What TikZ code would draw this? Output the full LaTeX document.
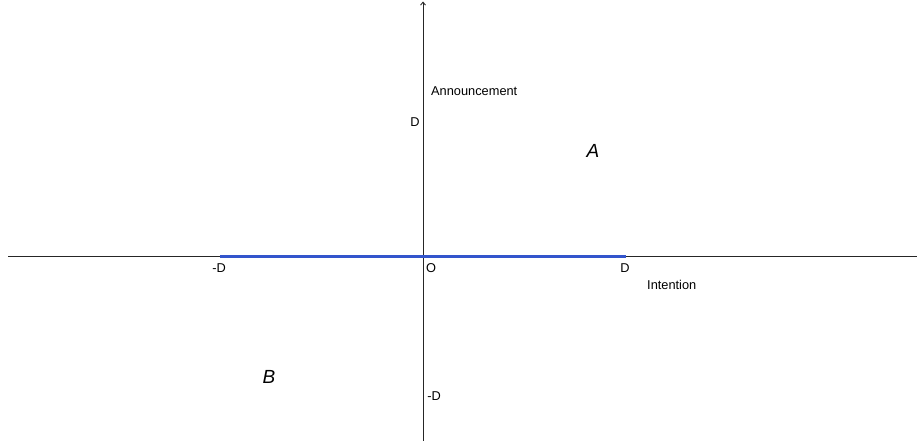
\documentclass[tikz,border=0pt]{standalone}
\usepackage{fontspec}
\setmainfont{Liberation Sans}
\usetikzlibrary{arrows.meta}
\definecolor{segblue}{HTML}{3355CC}
\tikzset{
  axis/.style={draw=black!85, line width=0.9pt},
  lbl/.style={inner sep=0pt, font=\fontsize{12.8}{14}\selectfont},
  region/.style={inner sep=0pt, font=\fontsize{19}{22}\selectfont\itshape},
  seg/.style={draw=segblue, line width=3pt}
}
\begin{document}
\begin{tikzpicture}[x=1pt,y=-1pt]
\useasboundingbox (0,0) rectangle (917,441);
\coordinate (xl) at (8,256);
\coordinate (xr) at (917,256);
\coordinate (yb) at (423,441);
\coordinate (yt) at (423,1.5);
\coordinate (sl) at (220,256);
\coordinate (sr) at (626,256);
\draw[axis] (xl) -- (xr);
\draw[axis, -{Straight Barb[length=3pt,width=5pt]}] (yb) -- (yt);
\draw[seg] (sl) -- (sr);
\node[lbl, anchor=west] (ann) at (431,91) {Announcement};
\node[lbl] (dy) at (415,122) {D};
\node[lbl] (mdy) at (434,396) {-D};
\node[lbl] (mdx) at (219,268) {-D};
\node[lbl] (o) at (431,268) {O};
\node[lbl] (dx) at (625,268) {D};
\node[lbl, anchor=west] (int) at (647,285) {Intention};
\node[region] (A) at (593,151) {A};
\node[region] (B) at (269,377) {B};
\end{tikzpicture}
\end{document}
